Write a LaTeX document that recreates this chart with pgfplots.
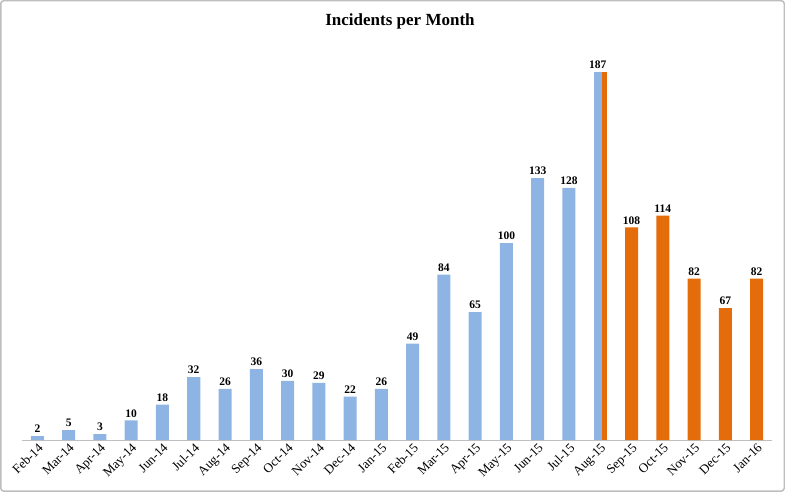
\documentclass[border=0pt]{standalone}
\usepackage{pgfplots}
\pgfplotsset{compat=1.18}
\usepackage{fontspec}
\setmainfont{Liberation Serif}
\definecolor{barblue}{RGB}{141,180,226}
\definecolor{barorange}{RGB}{228,108,10}
\definecolor{framegray}{RGB}{190,190,190}
\pgfplotsset{valuelbl/.style={nodes near coords,
  every node near coord/.append style={font=\fontsize{11.5}{13}\selectfont\bfseries, black, inner sep=3pt}}}
\begin{document}
\begin{tikzpicture}[x=1pt,y=1pt]
\begin{axis}[
  at={(0,0)}, anchor=south west,
  scale only axis, width=750pt, height=393.6pt,
  xmin=-0.5, xmax=23.5, ymin=0, ymax=200,
  hide y axis,
  /pgf/number format/assume math mode=true,
  axis x line=bottom, axis line style={-, draw=black!25, line width=0.8pt},
  xtick={0,...,23},
  xticklabels={Feb-14,Mar-14,Apr-14,May-14,Jun-14,Jul-14,Aug-14,Sep-14,Oct-14,Nov-14,Dec-14,Jan-15,
    Feb-15,Mar-15,Apr-15,May-15,Jun-15,Jul-15,Aug-15,Sep-15,Oct-15,Nov-15,Dec-15,Jan-16},
  major tick length=0pt,
  xticklabel style={rotate=45, anchor=north east, inner sep=1.5pt, font=\fontsize{13}{15}\selectfont},
  ybar, bar width=13pt,
  clip=false,
]
% orange series (Aug-15 strip drawn underneath the blue bar)
\addplot[fill=barorange, draw=none, bar shift=0pt] coordinates {(18,187)};
\addplot[fill=barorange, draw=none, bar shift=0pt, valuelbl]
coordinates {
  (19,108) (20,114) (21,82) (22,67) (23,82)
};
% blue series
\addplot[fill=barblue, draw=none, bar width=8pt, bar shift=-2.5pt, valuelbl]
coordinates {(18,187)};
\addplot[fill=barblue, draw=none, bar shift=0pt, valuelbl]
coordinates {
  (0,2) (1,5) (2,3) (3,10) (4,18) (5,32) (6,26) (7,36) (8,30) (9,29)
  (10,22) (11,26) (12,49) (13,84) (14,65) (15,100) (16,133) (17,128)
};
\end{axis}
\node[font=\fontsize{17}{20}\selectfont\bfseries] at (378,418) {Incidents per Month};
\draw[framegray, line width=1.5pt, rounded corners=3pt] (-21,-51) rectangle (762,439);
\end{tikzpicture}
\end{document}
